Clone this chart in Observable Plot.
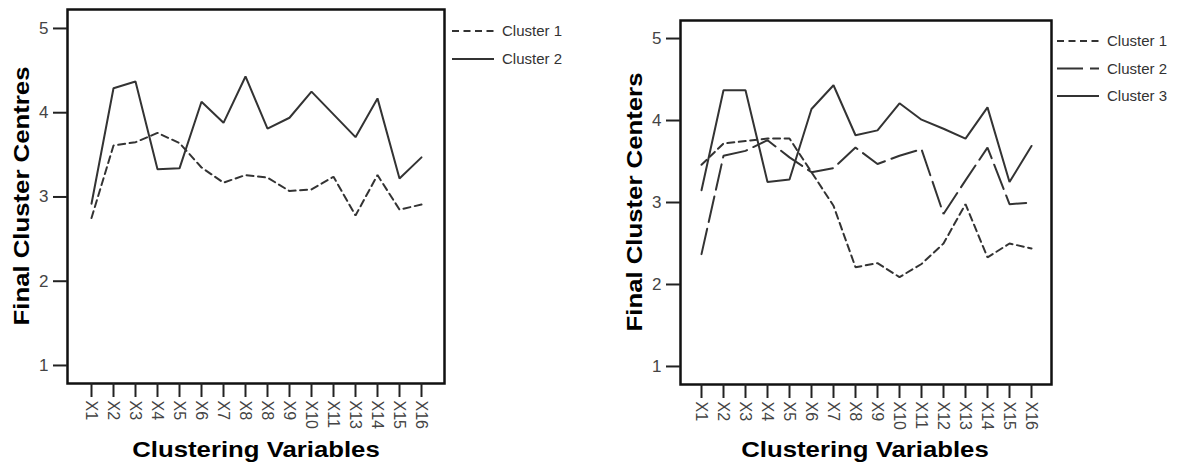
<!DOCTYPE html>
<html><head><meta charset="utf-8">
<script src="https://cdn.jsdelivr.net/npm/d3@7"></script>
<script src="https://cdn.jsdelivr.net/npm/@observablehq/plot@0.6"></script>
<style>
body{margin:0;background:#fff;width:1187px;height:467px;position:relative;overflow:hidden;font-family:"Liberation Sans",Arial,sans-serif}
.panel{position:absolute;top:0}
.ytitle{position:absolute;font-weight:bold;font-size:22px;line-height:22px;white-space:nowrap;transform:translate(-50%,-50%) rotate(-90deg) scaleX(1.17);color:#000}
.xtitle{position:absolute;font-weight:bold;font-size:22px;line-height:22px;white-space:nowrap;transform:translateX(-50%) scaleX(1.17);color:#000}
.legend{position:absolute}
.panel g[aria-label="y-axis tick label"]{font-size:17px}
.panel g[aria-label="x-axis tick label"]{font-size:16px}
</style>
</head><body>
<script>
// ---- Left panel data ----
const leftLabels = ["X1","X2","X3","X4","X5","X6","X7","X8","X8","X9","X10","X11","X13","X14","X15","X16"];
const leftNames = ["Cluster 1","Cluster 2"];
const leftCluster1 = [2.75,3.61,3.65,3.76,3.64,3.35,3.17,3.26,3.23,3.07,3.09,3.24,2.78,3.26,2.85,2.91];
const leftCluster2 = [2.92,4.29,4.37,3.33,3.34,4.13,3.88,4.43,3.81,3.94,4.25,3.98,3.71,4.17,3.22,3.47];
const leftYTitle = "Final Cluster Centres";

// ---- Right panel data ----
const rightLabels = ["X1","X2","X3","X4","X5","X6","X7","X8","X9","X10","X11","X12","X13","X14","X15","X16"];
const rightNames = ["Cluster 1","Cluster 2","Cluster 3"];
const rightCluster1 = [3.46,3.72,3.75,3.78,3.78,3.37,2.96,2.21,2.26,2.09,2.25,2.50,2.98,2.33,2.50,2.44];
const rightCluster2 = [2.37,3.57,3.63,3.76,3.55,3.37,3.42,3.67,3.47,3.57,3.65,2.86,3.27,3.67,2.98,3.00];
const rightCluster3 = [3.15,4.37,4.37,3.25,3.28,4.14,4.43,3.82,3.88,4.21,4.01,3.90,3.78,4.16,3.25,3.69];
const rightYTitle = "Final Cluster Centers";

const xTitle = "Clustering Variables";
const yTicks = [1,2,3,4,5];

const dashStyles = {short: "7,4.5", long: "26,7", solid: null};

function panel(o) {
  const data = [];
  o.series.forEach((vals, s) => vals.forEach((v, i) => data.push({i, v, s})));
  const marks = [
    Plot.frame({stroke: "#111", strokeWidth: 2.5}),
    Plot.axisY({ticks: yTicks, tickFormat: d3.format("d"), tickSize: 14, tickPadding: 5, fontSize: 17, stroke: "#222", strokeWidth: 2, fill: "#444", label: null}),
    Plot.axisX({tickSize: 14, tickPadding: 3, tickRotate: 90, fontSize: 16, stroke: "#222", strokeWidth: 2, fill: "#444", label: null, tickFormat: i => o.labels[i]})
  ];
  o.series.forEach((vals, s) => {
    marks.push(Plot.line(data.filter(d => d.s === s), {x: "i", y: "v", stroke: "#333", strokeWidth: 2, strokeDasharray: o.dashes[s], strokeLinejoin: "miter"}));
  });
  const chart = Plot.plot({
    width: o.width, height: 467,
    marginLeft: o.marginLeft, marginRight: o.marginRight, marginTop: o.marginTop, marginBottom: o.marginBottom,
    style: {fontFamily: "Liberation Sans, Arial, sans-serif", fontSize: "16px", background: "transparent", color: "#333"},
    x: {type: "point", domain: d3.range(o.labels.length), padding: o.padding},
    y: {domain: o.yDomain},
    marks
  });
  const wrap = document.createElement("div");
  wrap.className = "panel";
  wrap.style.left = o.left + "px";
  wrap.appendChild(chart);
  document.body.appendChild(wrap);

  // legend
  const lg = d3.select(document.body).append("svg").attr("class", "legend")
    .style("left", o.legend.x + "px").style("top", o.legend.y + "px")
    .attr("width", 130).attr("height", 100);
  o.names.forEach((n, k) => {
    const y = 8 + k * o.legend.gap;
    lg.append("line").attr("x1", 0).attr("x2", 42).attr("y1", y).attr("y2", y)
      .attr("stroke", "#333").attr("stroke-width", 2).attr("stroke-dasharray", o.dashes[k]);
    lg.append("text").attr("x", 50).attr("y", y).attr("dy", "0.35em")
      .attr("font-size", 15).attr("fill", "#333").attr("font-family", "Liberation Sans, Arial, sans-serif").text(n);
  });

  const yt = document.createElement("div");
  yt.className = "ytitle"; yt.textContent = o.yTitle;
  yt.style.left = o.yTitlePos[0] + "px"; yt.style.top = o.yTitlePos[1] + "px";
  document.body.appendChild(yt);
  const xt = document.createElement("div");
  xt.className = "xtitle"; xt.textContent = xTitle;
  xt.style.left = o.xTitlePos[0] + "px"; xt.style.top = o.xTitlePos[1] + "px";
  document.body.appendChild(xt);
}

panel({
  left: 0, width: 587, marginLeft: 67, marginRight: 143, marginTop: 9, marginBottom: 84,
  labels: leftLabels, names: leftNames, series: [leftCluster1, leftCluster2],
  dashes: [dashStyles.short, dashStyles.solid], padding: 0.82, yDomain: [0.786, 5.225],
  legend: {x: 452, y: 23, gap: 28}, yTitle: leftYTitle, yTitlePos: [22, 196], xTitlePos: [256, 439]
});
panel({
  left: 587, width: 600, marginLeft: 93, marginRight: 136, marginTop: 20, marginBottom: 83,
  labels: rightLabels, names: rightNames, series: [rightCluster1, rightCluster2, rightCluster3],
  dashes: [dashStyles.short, dashStyles.long, dashStyles.solid], padding: 0.86, yDomain: [0.78, 5.22],
  legend: {x: 1057, y: 33, gap: 27.5}, yTitle: rightYTitle, yTitlePos: [635, 202], xTitlePos: [865, 439]
});
</script>
</body></html>
